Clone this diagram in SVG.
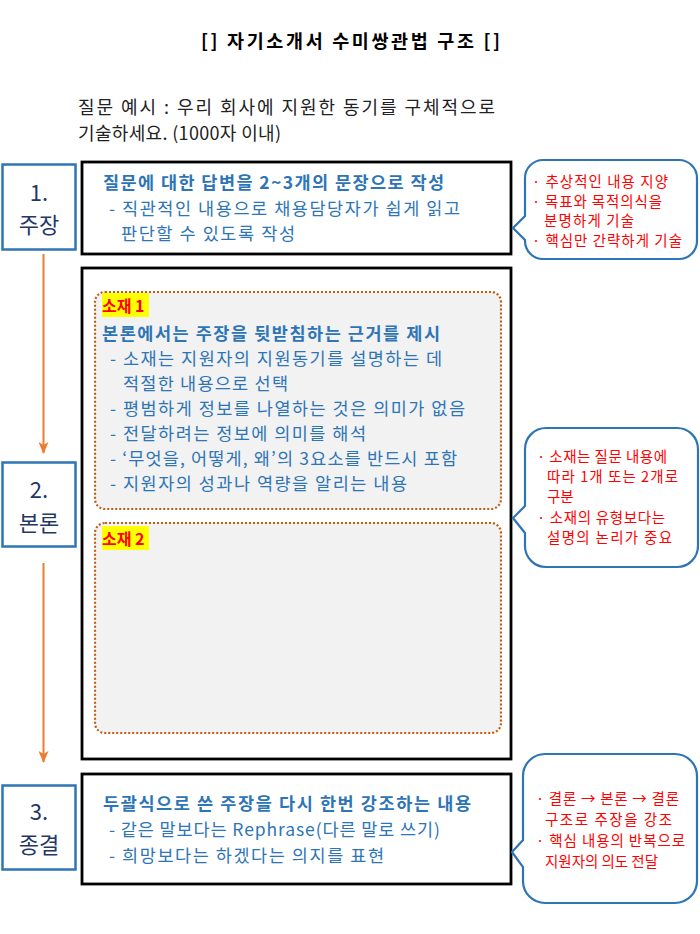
<svg xmlns="http://www.w3.org/2000/svg" width="700" height="934" viewBox="0 0 700 934">
<defs>
<marker id="arr" viewBox="0 0 12 10" refX="11" refY="5" markerWidth="12" markerHeight="10" markerUnits="userSpaceOnUse" orient="auto">
<path d="M0,0 L12,5 L0,10 L3,5 Z" fill="#ED7D31"/>
</marker>
<style>
text{font-family:"Noto Sans CJK KR","Noto Sans",sans-serif;}
.title{font-size:18.5px;font-weight:bold;fill:#000;}
.q{font-size:18px;fill:#222;}
.lbl{fill:#fff;stroke:#2E75B6;stroke-width:2.5;}
.lt{font-size:22px;fill:#1F3864;text-anchor:middle;}
.box{fill:#fff;stroke:#000;stroke-width:2.8;}
.hd{font-size:17.5px;font-weight:bold;fill:#2E75B6;}
.bt{font-size:17.5px;fill:#2E75B6;}
.dot{fill:#F2F2F2;stroke:#C55A11;stroke-width:2.2;stroke-dasharray:2 2;}
.hl{fill:#FFFF00;}
.st{font-size:16px;font-weight:bold;fill:#FF0000;}
.co{fill:#fff;stroke:#2E75B6;stroke-width:2.2;}
.ct{font-size:14.5px;fill:#FF0000;}
.conn{stroke:#ED7D31;stroke-width:2;fill:none;}
</style>
</defs>
<rect width="700" height="934" fill="#fff"/>
<text class="title" x="201" y="48" textLength="299" lengthAdjust="spacing">[] 자기소개서 수미쌍관법 구조 []</text>
<text class="q" x="78" y="114" textLength="417" lengthAdjust="spacing">질문 예시 : 우리 회사에 지원한 동기를 구체적으로</text>
<text class="q" x="78" y="140" textLength="203" lengthAdjust="spacing">기술하세요. (1000자 이내)</text>

<g id="connectors">
<line class="conn" x1="43.5" y1="254" x2="43.5" y2="453" marker-end="url(#arr)"/>
<line class="conn" x1="43.5" y1="563" x2="43.5" y2="762" marker-end="url(#arr)"/>
</g>

<g id="label1">
<rect class="lbl" x="2.5" y="164.5" width="73" height="85"/>
<text class="lt" x="39" y="201">1.</text>
<text class="lt" x="39" y="233">주장</text>
</g>
<g id="label2">
<rect class="lbl" x="2.5" y="462.5" width="73" height="84"/>
<text class="lt" x="39" y="498">2.</text>
<text class="lt" x="39" y="531">본론</text>
</g>
<g id="label3">
<rect class="lbl" x="2.5" y="785.5" width="73" height="84"/>
<text class="lt" x="39" y="820">3.</text>
<text class="lt" x="39" y="853">종결</text>
</g>

<g id="box1">
<rect class="box" x="82" y="162" width="429" height="92"/>
<text class="hd" x="103" y="189" textLength="341" lengthAdjust="spacing">질문에 대한 답변을 2~3개의 문장으로 작성</text>
<text class="bt" x="109" y="215" textLength="351" lengthAdjust="spacing">- 직관적인 내용으로 채용담당자가 쉽게 읽고</text>
<text class="bt" x="121" y="240" textLength="174" lengthAdjust="spacing">판단할 수 있도록 작성</text>
</g>

<g id="box2">
<rect class="box" x="82" y="268" width="429" height="491"/>
</g>
<g id="topic1">
<rect class="dot" x="95" y="292" width="406" height="217" rx="10"/>
<rect class="hl" x="102" y="293" width="47" height="24"/>
<text class="st" x="102" y="312">소재 1</text>
<text class="hd" x="102" y="340" textLength="338" lengthAdjust="spacing">본론에서는 주장을 뒷받침하는 근거를 제시</text>
<text class="bt" x="110" y="365" textLength="332" lengthAdjust="spacing">- 소재는 지원자의 지원동기를 설명하는 데</text>
<text class="bt" x="123" y="390" textLength="165" lengthAdjust="spacing">적절한 내용으로 선택</text>
<text class="bt" x="110" y="415" textLength="355" lengthAdjust="spacing">- 평범하게 정보를 나열하는 것은 의미가 없음</text>
<text class="bt" x="110" y="440" textLength="256" lengthAdjust="spacing">- 전달하려는 정보에 의미를 해석</text>
<text class="bt" x="110" y="465" textLength="347" lengthAdjust="spacing">- ‘무엇을, 어떻게, 왜’의 3요소를 반드시 포함</text>
<text class="bt" x="110" y="490" textLength="297" lengthAdjust="spacing">- 지원자의 성과나 역량을 알리는 내용</text>
</g>
<g id="topic2">
<rect class="dot" x="95" y="523" width="406" height="210" rx="10"/>
<rect class="hl" x="102" y="526" width="47" height="24"/>
<text class="st" x="102" y="545">소재 2</text>
</g>

<g id="box3">
<rect class="box" x="82" y="774" width="429" height="110"/>
<text class="hd" x="103" y="810" textLength="368" lengthAdjust="spacing">두괄식으로 쓴 주장을 다시 한번 강조하는 내용</text>
<text class="bt" x="109" y="836" textLength="331" lengthAdjust="spacing">- 같은 말보다는 Rephrase(다른 말로 쓰기)</text>
<text class="bt" x="109" y="862" textLength="275" lengthAdjust="spacing">- 희망보다는 하겠다는 의지를 표현</text>
</g>

<g id="callout1">
<path class="co" d="M543,160 H679 A18,18 0 0 1 697,178 V241 A18,18 0 0 1 679,259 H543 A18,18 0 0 1 525,241 V240 L513,228 L525,216 V178 A18,18 0 0 1 543,160 Z"/>
<text class="ct" x="532" y="187" textLength="136" lengthAdjust="spacing">· 추상적인 내용 지양</text>
<text class="ct" x="532" y="207" textLength="130" lengthAdjust="spacing">· 목표와 목적의식을</text>
<text class="ct" x="544" y="226" textLength="90" lengthAdjust="spacing">분명하게 기술</text>
<text class="ct" x="532" y="246" textLength="150" lengthAdjust="spacing">· 핵심만 간략하게 기술</text>
</g>

<g id="callout2">
<path class="co" d="M546,428 H677 A21,21 0 0 1 698,449 V546 A21,21 0 0 1 677,567 H546 A21,21 0 0 1 525,546 V533 L513,518 L525,506 V449 A21,21 0 0 1 546,428 Z"/>
<text class="ct" x="537" y="462" textLength="130" lengthAdjust="spacing">· 소재는 질문 내용에</text>
<text class="ct" x="547" y="482" textLength="131" lengthAdjust="spacing">따라 1개 또는 2개로</text>
<text class="ct" x="547" y="502">구분</text>
<text class="ct" x="537" y="523" textLength="128" lengthAdjust="spacing">· 소재의 유형보다는</text>
<text class="ct" x="547" y="543" textLength="125" lengthAdjust="spacing">설명의 논리가 중요</text>
</g>

<g id="callout3">
<path class="co" d="M545,754 H675 A22,22 0 0 1 697,776 V881 A22,22 0 0 1 675,903 H545 A22,22 0 0 1 523,881 V867 L512,852 L523,840 V776 A22,22 0 0 1 545,754 Z"/>
<text class="ct" x="536" y="804" textLength="143" lengthAdjust="spacing">· 결론 → 본론 → 결론</text>
<text class="ct" x="545" y="825" textLength="127" lengthAdjust="spacing">구조로 주장을 강조</text>
<text class="ct" x="536" y="846" textLength="149" lengthAdjust="spacing">· 핵심 내용의 반복으로</text>
<text class="ct" x="545" y="867" textLength="113" lengthAdjust="spacing">지원자의 의도 전달</text>
</g>
</svg>
